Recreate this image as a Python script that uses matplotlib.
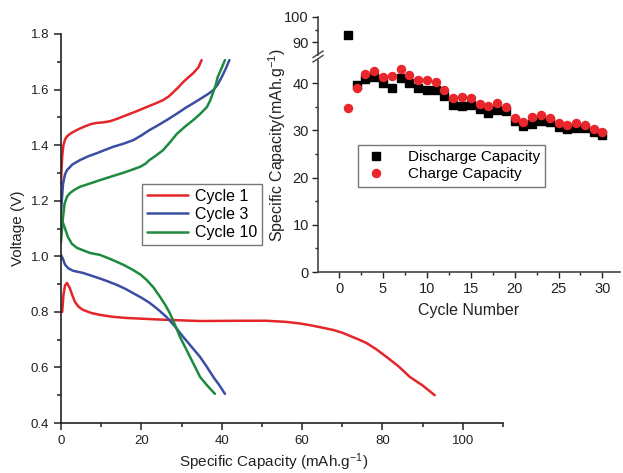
import matplotlib
matplotlib.use("Agg")
import matplotlib.pyplot as plt
from matplotlib.lines import Line2D
import numpy as np

plt.rcParams['font.family'] = ['Liberation Sans', 'DejaVu Sans']
plt.rcParams['mathtext.fontset'] = 'custom'
plt.rcParams['mathtext.rm'] = 'Liberation Sans'
plt.rcParams['mathtext.it'] = 'Liberation Sans:italic'

# ---- Main plot data (Specific capacity, Voltage) ----
c1_charge_x = [0.0, 0.1, 0.3, 0.6, 1.0, 1.5, 2.5, 4.0, 6.0, 7.5, 8.9, 10.5, 12.2, 14.2, 16.3, 18.8, 21.3, 23.5, 25.4, 26.8, 27.9, 29.2, 30.4, 31.7, 32.9, 34.2, 35.0]
c1_charge_v = [1.26, 1.30, 1.36, 1.40, 1.42, 1.432, 1.443, 1.455, 1.468, 1.476, 1.480, 1.482, 1.486, 1.496, 1.508, 1.522, 1.537, 1.550, 1.562, 1.575, 1.590, 1.608, 1.627, 1.644, 1.659, 1.680, 1.706]
c1_dis_x = [0.0, 0.3, 0.6, 1.0, 1.5, 2.2, 2.8, 3.5, 4.4, 5.5, 7.5, 9.7, 13.0, 16.3, 25.0, 34.6, 45.0, 51.0, 56.0, 59.5, 62.0, 64.4, 67.7, 70.0, 72.0, 74.0, 76.0, 78.5, 81.0, 84.0, 86.8, 90.0, 93.0]
c1_dis_v = [0.80, 0.80, 0.86, 0.895, 0.904, 0.885, 0.86, 0.835, 0.818, 0.807, 0.796, 0.789, 0.782, 0.778, 0.772, 0.767, 0.768, 0.768, 0.764, 0.758, 0.752, 0.745, 0.735, 0.725, 0.713, 0.701, 0.688, 0.665, 0.638, 0.604, 0.566, 0.535, 0.50]

c3_charge_x = [0.0, 0.2, 0.5, 1.0, 1.5, 2.8, 4.7, 6.8, 8.9, 11.0, 13.0, 15.5, 18.0, 20.0, 22.0, 24.2, 26.3, 28.8, 31.3, 33.4, 35.4, 36.7, 37.9, 39.0, 40.0, 41.0, 41.9]
c3_charge_v = [1.156, 1.20, 1.26, 1.295, 1.31, 1.33, 1.346, 1.360, 1.371, 1.383, 1.394, 1.405, 1.418, 1.435, 1.454, 1.472, 1.490, 1.513, 1.537, 1.555, 1.573, 1.585, 1.598, 1.618, 1.645, 1.675, 1.706]
c3_dis_x = [0.0, 0.5, 1.0, 1.8, 3.0, 5.5, 7.6, 9.7, 11.8, 13.9, 16.0, 18.0, 20.0, 22.1, 24.2, 26.3, 28.4, 30.4, 32.5, 34.6, 36.3, 37.9, 39.4, 40.8]
c3_dis_v = [1.005, 0.99, 0.97, 0.957, 0.948, 0.940, 0.930, 0.920, 0.909, 0.897, 0.883, 0.867, 0.851, 0.832, 0.808, 0.781, 0.747, 0.710, 0.674, 0.638, 0.602, 0.566, 0.536, 0.505]

c10_charge_x = [0.0, 0.2, 0.5, 0.9, 1.5, 2.2, 3.2, 4.7, 7.2, 9.7, 12.5, 15.4, 17.6, 19.7, 21.0, 22.0, 23.7, 25.4, 27.1, 28.8, 30.8, 32.9, 34.6, 36.3, 37.1, 37.8, 38.5, 39.0, 39.9, 40.8]
c10_charge_v = [1.05, 1.09, 1.14, 1.19, 1.215, 1.227, 1.238, 1.250, 1.262, 1.274, 1.287, 1.300, 1.311, 1.322, 1.333, 1.346, 1.363, 1.382, 1.410, 1.440, 1.466, 1.490, 1.512, 1.537, 1.560, 1.587, 1.616, 1.645, 1.675, 1.706]
c10_dis_x = [0.0, 0.5, 1.0, 1.7, 2.7, 4.0, 7.2, 9.7, 11.8, 13.9, 16.0, 18.0, 19.8, 21.3, 23.0, 24.6, 25.9, 27.1, 28.4, 29.6, 30.9, 32.1, 33.4, 34.6, 36.5, 38.3]
c10_dis_v = [1.14, 1.12, 1.10, 1.07, 1.045, 1.030, 1.012, 1.005, 0.993, 0.980, 0.966, 0.950, 0.934, 0.915, 0.888, 0.855, 0.826, 0.795, 0.752, 0.710, 0.673, 0.638, 0.601, 0.566, 0.533, 0.505]

cycle_labels = ['Cycle 1', 'Cycle 3', 'Cycle 10']

# ---- Inset data ----
cycles = list(range(1, 31))
discharge_cap = [93.0, 39.6, 40.9, 41.3, 40.1, 39.0, 41.1, 40.1, 38.9, 38.6,
                 38.6, 37.3, 35.4, 35.1, 35.5, 34.6, 33.8, 34.4, 34.1, 32.1,
                 30.9, 31.4, 32.1, 31.7, 30.8, 30.4, 30.6, 30.5, 29.7, 29.1]
charge_cap = [34.8, 39.0, 41.9, 42.5, 41.3, 41.5, 43.1, 41.7, 40.7, 40.8,
              40.3, 38.6, 36.8, 37.0, 36.9, 35.7, 35.2, 35.8, 35.0, 32.6,
              31.7, 32.8, 33.2, 32.6, 31.5, 31.2, 31.6, 31.1, 30.3, 29.6]

W, H = 623, 473
fig = plt.figure(figsize=(W / 100, H / 100), dpi=100)

def fbox(x0, y0, x1, y1):
    # pixel box (top-left origin) -> figure fraction rect
    return [x0 / W, 1 - y1 / H, (x1 - x0) / W, (y1 - y0) / H]

red = '#e4252a'
blue = '#3b4ea3'
green = '#1d8a3d'
axcol = '#222222'

ax = fig.add_axes(fbox(61, 34, 503, 423))
lw = 1.8
kw = dict(lw=lw, solid_joinstyle='round', solid_capstyle='round')
ax.plot(c1_charge_x, c1_charge_v, color=red, label=cycle_labels[0], **kw)
ax.plot(c1_dis_x, c1_dis_v, color=red, **kw)
ax.plot(c3_charge_x, c3_charge_v, color=blue, label=cycle_labels[1], **kw)
ax.plot(c3_dis_x, c3_dis_v, color=blue, **kw)
ax.plot(c10_charge_x, c10_charge_v, color=green, label=cycle_labels[2], **kw)
ax.plot(c10_dis_x, c10_dis_v, color=green, **kw)
ax.set_xlim(0, 110)
ax.set_ylim(0.4, 1.8)
ax.set_xticks([0, 20, 40, 60, 80, 100])
ax.set_xticks([10, 30, 50, 70, 90, 110], minor=True)
ax.set_yticks([0.4, 0.6, 0.8, 1.0, 1.2, 1.4, 1.6, 1.8])
ax.set_yticks(np.arange(0.5, 1.8, 0.2), minor=True)
ax.set_yticklabels(['0.4', '0.6', '0.8', '1.0', '1.2', '1.4', '1.6', '1.8'])
for s in ['top', 'right']:
    ax.spines[s].set_visible(False)
for s in ['left', 'bottom']:
    ax.spines[s].set_linewidth(1.2)
    ax.spines[s].set_color(axcol)
ax.tick_params(which='both', direction='out', colors=axcol, labelsize=9.5, width=1.1)
ax.tick_params(which='major', length=5)
ax.tick_params(which='minor', length=3)
ax.set_xlabel('Specific Capacity (mAh.g$^{\\mathregular{-1}}$)', fontsize=11, color=axcol, labelpad=4)
ax.xaxis.set_label_coords(0.48, -0.074)
ax.set_ylabel('Voltage (V)', fontsize=11, color=axcol, labelpad=4)
leg = ax.legend(loc='upper left', bbox_to_anchor=(142 / W, 1 - 184 / H), bbox_transform=fig.transFigure,
                borderaxespad=0, fontsize=11.5, handlelength=2.6, handletextpad=0.4,
                fancybox=False, edgecolor='#777777', framealpha=1, borderpad=0.3, labelspacing=0.2)
leg.get_frame().set_linewidth(1.0)

# ---- Inset with broken y axis ----
axl = fig.add_axes(fbox(318, 59.7, 620, 272))
axu = fig.add_axes(fbox(318, 16.7, 620, 55.2), sharex=axl)
for a in (axl, axu):
    a.patch.set_alpha(0)
    a.plot(cycles, discharge_cap, 's', color='black', ms=5.2, ls='none', label='Discharge Capacity')
    a.plot(cycles, charge_cap, 'o', color='#e8262b', ms=5.8, ls='none', label='Charge Capacity')
    for s in ['top', 'right']:
        a.spines[s].set_visible(False)
    a.spines['left'].set_linewidth(1.2)
    a.spines['left'].set_color('#444444')
    a.spines['bottom'].set_linewidth(1.2)
    a.spines['bottom'].set_color('#444444')
    a.tick_params(which='both', direction='out', colors=axcol, labelsize=10.5, width=1.0, pad=2)
    a.tick_params(which='major', length=4.5)
    a.tick_params(which='minor', length=2.5)
axl.set_ylim(0, 45)
axl.set_xlim(-2.4, 32)
axl.set_yticks([0, 10, 20, 30, 40])
axl.set_yticks([5, 15, 25, 35], minor=True)
axl.set_xticks([0, 5, 10, 15, 20, 25, 30])
axl.set_xticks([2.5, 7.5, 12.5, 17.5, 22.5, 27.5], minor=True)
axu.set_ylim(85, 100)
axu.set_yticks([90, 100])
axu.set_yticks([95], minor=True)
axu.spines['bottom'].set_visible(False)
axu.tick_params(axis='x', which='both', bottom=False, labelbottom=False)
axl.tick_params(axis='x', pad=3)
axl.set_xlabel('Cycle Number', fontsize=11.5, color=axcol, labelpad=5)
fig.text(277 / W, 1 - 145 / H, 'Specific Capacity(mAh.g$^{\\mathregular{-1}}$)', rotation=90,
         ha='center', va='center', fontsize=11.5, color=axcol)

# break marks
for dy in (0, 4.5):
    fig.add_artist(Line2D([313 / W, 323 / W], [1 - (62 - dy) / H, 1 - (55.5 - dy) / H],
                          color='#444444', lw=1.0, transform=fig.transFigure))

leg2 = axl.legend(loc='upper left', bbox_to_anchor=(358 / W, 1 - 145 / H), bbox_transform=fig.transFigure,
                  borderaxespad=0, fontsize=11, handlelength=1.6, handletextpad=1.3,
                  fancybox=False, edgecolor='#777777', framealpha=1, borderpad=0.35, labelspacing=0.2)
leg2.get_frame().set_linewidth(1.0)

fig.savefig('out.png', dpi=100)
